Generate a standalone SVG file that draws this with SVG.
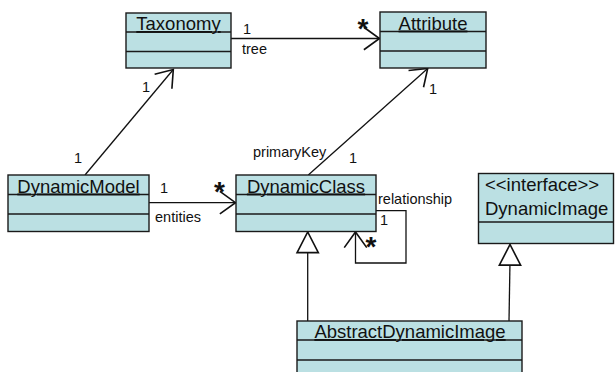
<svg xmlns="http://www.w3.org/2000/svg" width="616" height="372" viewBox="0 0 616 372">
<style>
.box{fill:#bbe0e3;stroke:#1a1a1a;stroke-width:1.4}
.div{stroke:#1a1a1a;stroke-width:1.4}
.name{font-family:"Liberation Sans",Arial,sans-serif;font-size:18.5px;fill:#111;text-anchor:middle;text-decoration:underline}
.iname{font-family:"Liberation Sans",Arial,sans-serif;font-size:18.5px;fill:#111}
.lbl{font-family:"Liberation Sans",Arial,sans-serif;font-size:14.5px;fill:#111}
.star{font-family:"Liberation Sans",Arial,sans-serif;font-size:28px;font-weight:bold;fill:#111;text-anchor:middle}
.edge{fill:none;stroke:#111;stroke-width:1.3}
</style>
<defs>
<marker id="open" markerUnits="userSpaceOnUse" markerWidth="30" markerHeight="30" refX="0" refY="0" viewBox="-16 -12 20 24" orient="auto" overflow="visible">
<path d="M-12.5,-9 L0,0 L-12.5,9" fill="none" stroke="#111" stroke-width="1.3"/>
</marker>
<marker id="tri" markerUnits="userSpaceOnUse" markerWidth="30" markerHeight="30" refX="0" refY="0" viewBox="-20 -12 24 24" orient="auto" overflow="visible">
<path d="M-16.5,-8.5 L0,0 L-16.5,8.5 Z" fill="#fff" stroke="#111" stroke-width="1.3"/>
</marker>
</defs>

<g id="connectors">
<path class="edge" d="M231,38.5 H379.5" marker-end="url(#open)"/>
<path class="edge" d="M85,175 L173.3,69.5" marker-end="url(#open)"/>
<path class="edge" d="M308.3,175 L427.7,68.5" marker-end="url(#open)"/>
<path class="edge" d="M149,202.7 H235.5" marker-end="url(#open)"/>
<path class="edge" d="M376,210.7 H406 V263 H355.5 V232" marker-end="url(#open)"/>
<path class="edge" d="M307.7,248 V321"/>
<path class="edge" d="M307.7,248 V232" marker-end="url(#tri)"/>
<path class="edge" d="M509,321 L510,261"/>
<path class="edge" d="M510,261 L510,244.5" marker-end="url(#tri)"/>
<text class="lbl" x="243" y="34">1</text>
<text class="lbl" x="242" y="54">tree</text>
<text class="star" x="363" y="38">*</text>
<text class="lbl" x="142" y="92">1</text>
<text class="lbl" x="74" y="163">1</text>
<text class="lbl" x="429" y="94">1</text>
<text class="lbl" x="349" y="163">1</text>
<text class="lbl" x="253" y="157">primaryKey</text>
<text class="lbl" x="160" y="193">1</text>
<text class="lbl" x="155" y="222">entities</text>
<text class="star" x="219.5" y="201">*</text>
<text class="lbl" x="378" y="204">relationship</text>
<text class="lbl" x="380" y="225">1</text>
<text class="star" x="371" y="256">*</text>
</g>

<g id="Taxonomy">
<rect class="box" x="126" y="13" width="105" height="55"/>
<line class="div" x1="126" y1="32" x2="231" y2="32"/>
<line class="div" x1="126" y1="51.5" x2="231" y2="51.5"/>
<text class="name" x="178.5" y="30">Taxonomy</text>
</g>

<g id="Attribute">
<rect class="box" x="380" y="12" width="106" height="56"/>
<line class="div" x1="380" y1="31.5" x2="486" y2="31.5"/>
<line class="div" x1="380" y1="51" x2="486" y2="51"/>
<text class="name" x="433" y="29.5">Attribute</text>
</g>

<g id="DynamicModel">
<rect class="box" x="8" y="175" width="141" height="56.5"/>
<line class="div" x1="8" y1="194.5" x2="149" y2="194.5"/>
<line class="div" x1="8" y1="214" x2="149" y2="214"/>
<text class="name" x="78.5" y="192.5">DynamicModel</text>
</g>

<g id="DynamicClass">
<rect class="box" x="236" y="175" width="140" height="56.5"/>
<line class="div" x1="236" y1="194.5" x2="376" y2="194.5"/>
<line class="div" x1="236" y1="214" x2="376" y2="214"/>
<text class="name" x="306" y="192.5">DynamicClass</text>
</g>

<g id="DynamicImage">
<rect class="box" x="478.5" y="173.5" width="135" height="70"/>
<line class="div" x1="478.5" y1="222" x2="613.5" y2="222"/>
<text class="iname" x="485" y="191">&lt;&lt;interface&gt;&gt;</text>
<text class="iname" x="485" y="215">DynamicImage</text>
</g>

<g id="AbstractDynamicImage">
<rect class="box" x="297" y="321" width="225" height="58"/>
<line class="div" x1="297" y1="340" x2="522" y2="340"/>
<line class="div" x1="297" y1="360" x2="522" y2="360"/>
<text class="name" x="410" y="338">AbstractDynamicImage</text>
</g>
</svg>
